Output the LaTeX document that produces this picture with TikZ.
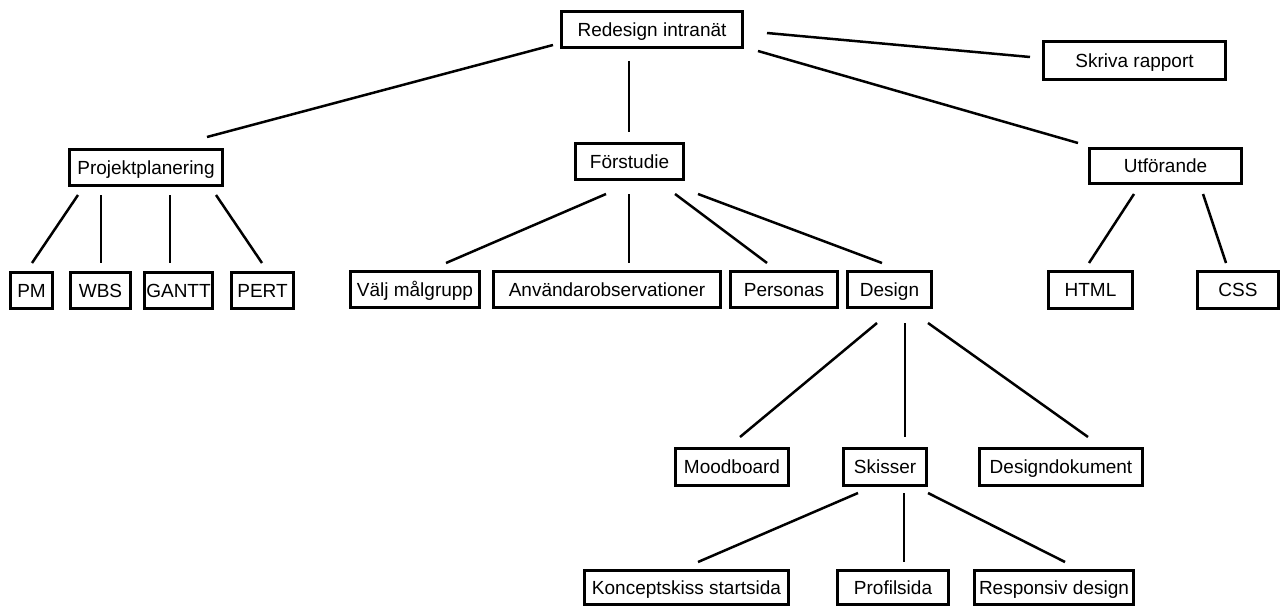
\documentclass[tikz,border=0pt]{standalone}
\usepackage{fontspec}
\setmainfont{Liberation Sans}
\newcommand\myconn[3]{%
  \coordinate (#1-a) at (#2);
  \coordinate (#1-b) at (#3);
  \draw[conn] (#1-a) -- (#1-b);}
\begin{document}
\begin{tikzpicture}[x=1pt,y=-1pt,
  box/.style={draw=black, line width=2.7pt, fill=white, inner sep=0pt,
    font=\fontsize{19}{22}\selectfont, text=black, text height=13.8pt, text depth=0pt},
  bx/.style 2 args={box, minimum width=#1pt-2.7pt, minimum height=#2pt-2.7pt},
  conn/.style={draw=black, line width=2.5pt}]
\useasboundingbox (0,0) rectangle (1287,607);
% nodes
\node[bx={184}{39}] (R) at (652,29.5) {Redesign intranät};
\node[bx={185}{41}] (SR) at (1134.5,60.5) {Skriva rapport};
\node[bx={156}{39}] (PP) at (146,167.5) {Projektplanering};
\node[bx={111}{39}] (F) at (629.5,161.5) {Förstudie};
\node[bx={155}{38}] (U) at (1165.5,166) {Utförande};
\node[bx={45}{39}] (PM) at (31.5,290.5) {PM};
\node[bx={63}{39}] (WBS) at (100.5,290.5) {WBS};
\node[bx={71}{39}] (GANTT) at (178.5,290.5) {GANTT};
\node[bx={65}{39}] (PERT) at (262.5,290.5) {PERT};
\node[bx={132}{39}] (V) at (415,289.5) {Välj målgrupp};
\node[bx={230}{39}] (A) at (607,289.5) {Användarobservationer};
\node[bx={110}{39}] (P) at (784,289.5) {Personas};
\node[bx={87}{39}] (D) at (889.5,289.5) {Design};
\node[bx={87}{40}] (H) at (1090.5,290) {HTML};
\node[bx={84}{40}] (C) at (1238,290) {CSS};
\node[bx={116}{40}] (M) at (732,467) {Moodboard};
\node[bx={86}{40}] (S) at (885,467) {Skisser};
\node[bx={166}{40}] (DD) at (1061,467) {Designdokument};
\node[bx={207}{37}] (K) at (686.5,587.5) {Konceptskiss startsida};
\node[bx={114}{37}] (PR) at (893,587.5) {Profilsida};
\node[bx={162}{37}] (RD) at (1054,587.5) {Responsiv design};
% connectors
\myconn{R-PP}{553,45}{207,137}
\myconn{R-F}{629,61}{629,132}
\myconn{R-U}{758,51}{1078,143}
\myconn{R-SR}{767,33}{1030,57}
\myconn{PP-PM}{78,195}{32,263}
\myconn{PP-WBS}{101,195}{101,263}
\myconn{PP-GANTT}{170,195}{170,263}
\myconn{PP-PERT}{216,195}{262,263}
\myconn{F-V}{606,194}{446,263}
\myconn{F-A}{629,194}{629,263}
\myconn{F-P}{675,194}{767,263}
\myconn{F-D}{698,194}{882,263}
\myconn{U-H}{1134,194}{1089,263}
\myconn{U-C}{1203,194}{1226,263}
\myconn{D-M}{877,323}{740,437}
\myconn{D-S}{905,323}{905,437}
\myconn{D-DD}{928,323}{1088,437}
\myconn{S-K}{858,493}{698,562}
\myconn{S-PR}{904,493}{904,562}
\myconn{S-RD}{928,493}{1065,562}
\end{tikzpicture}
\end{document}
